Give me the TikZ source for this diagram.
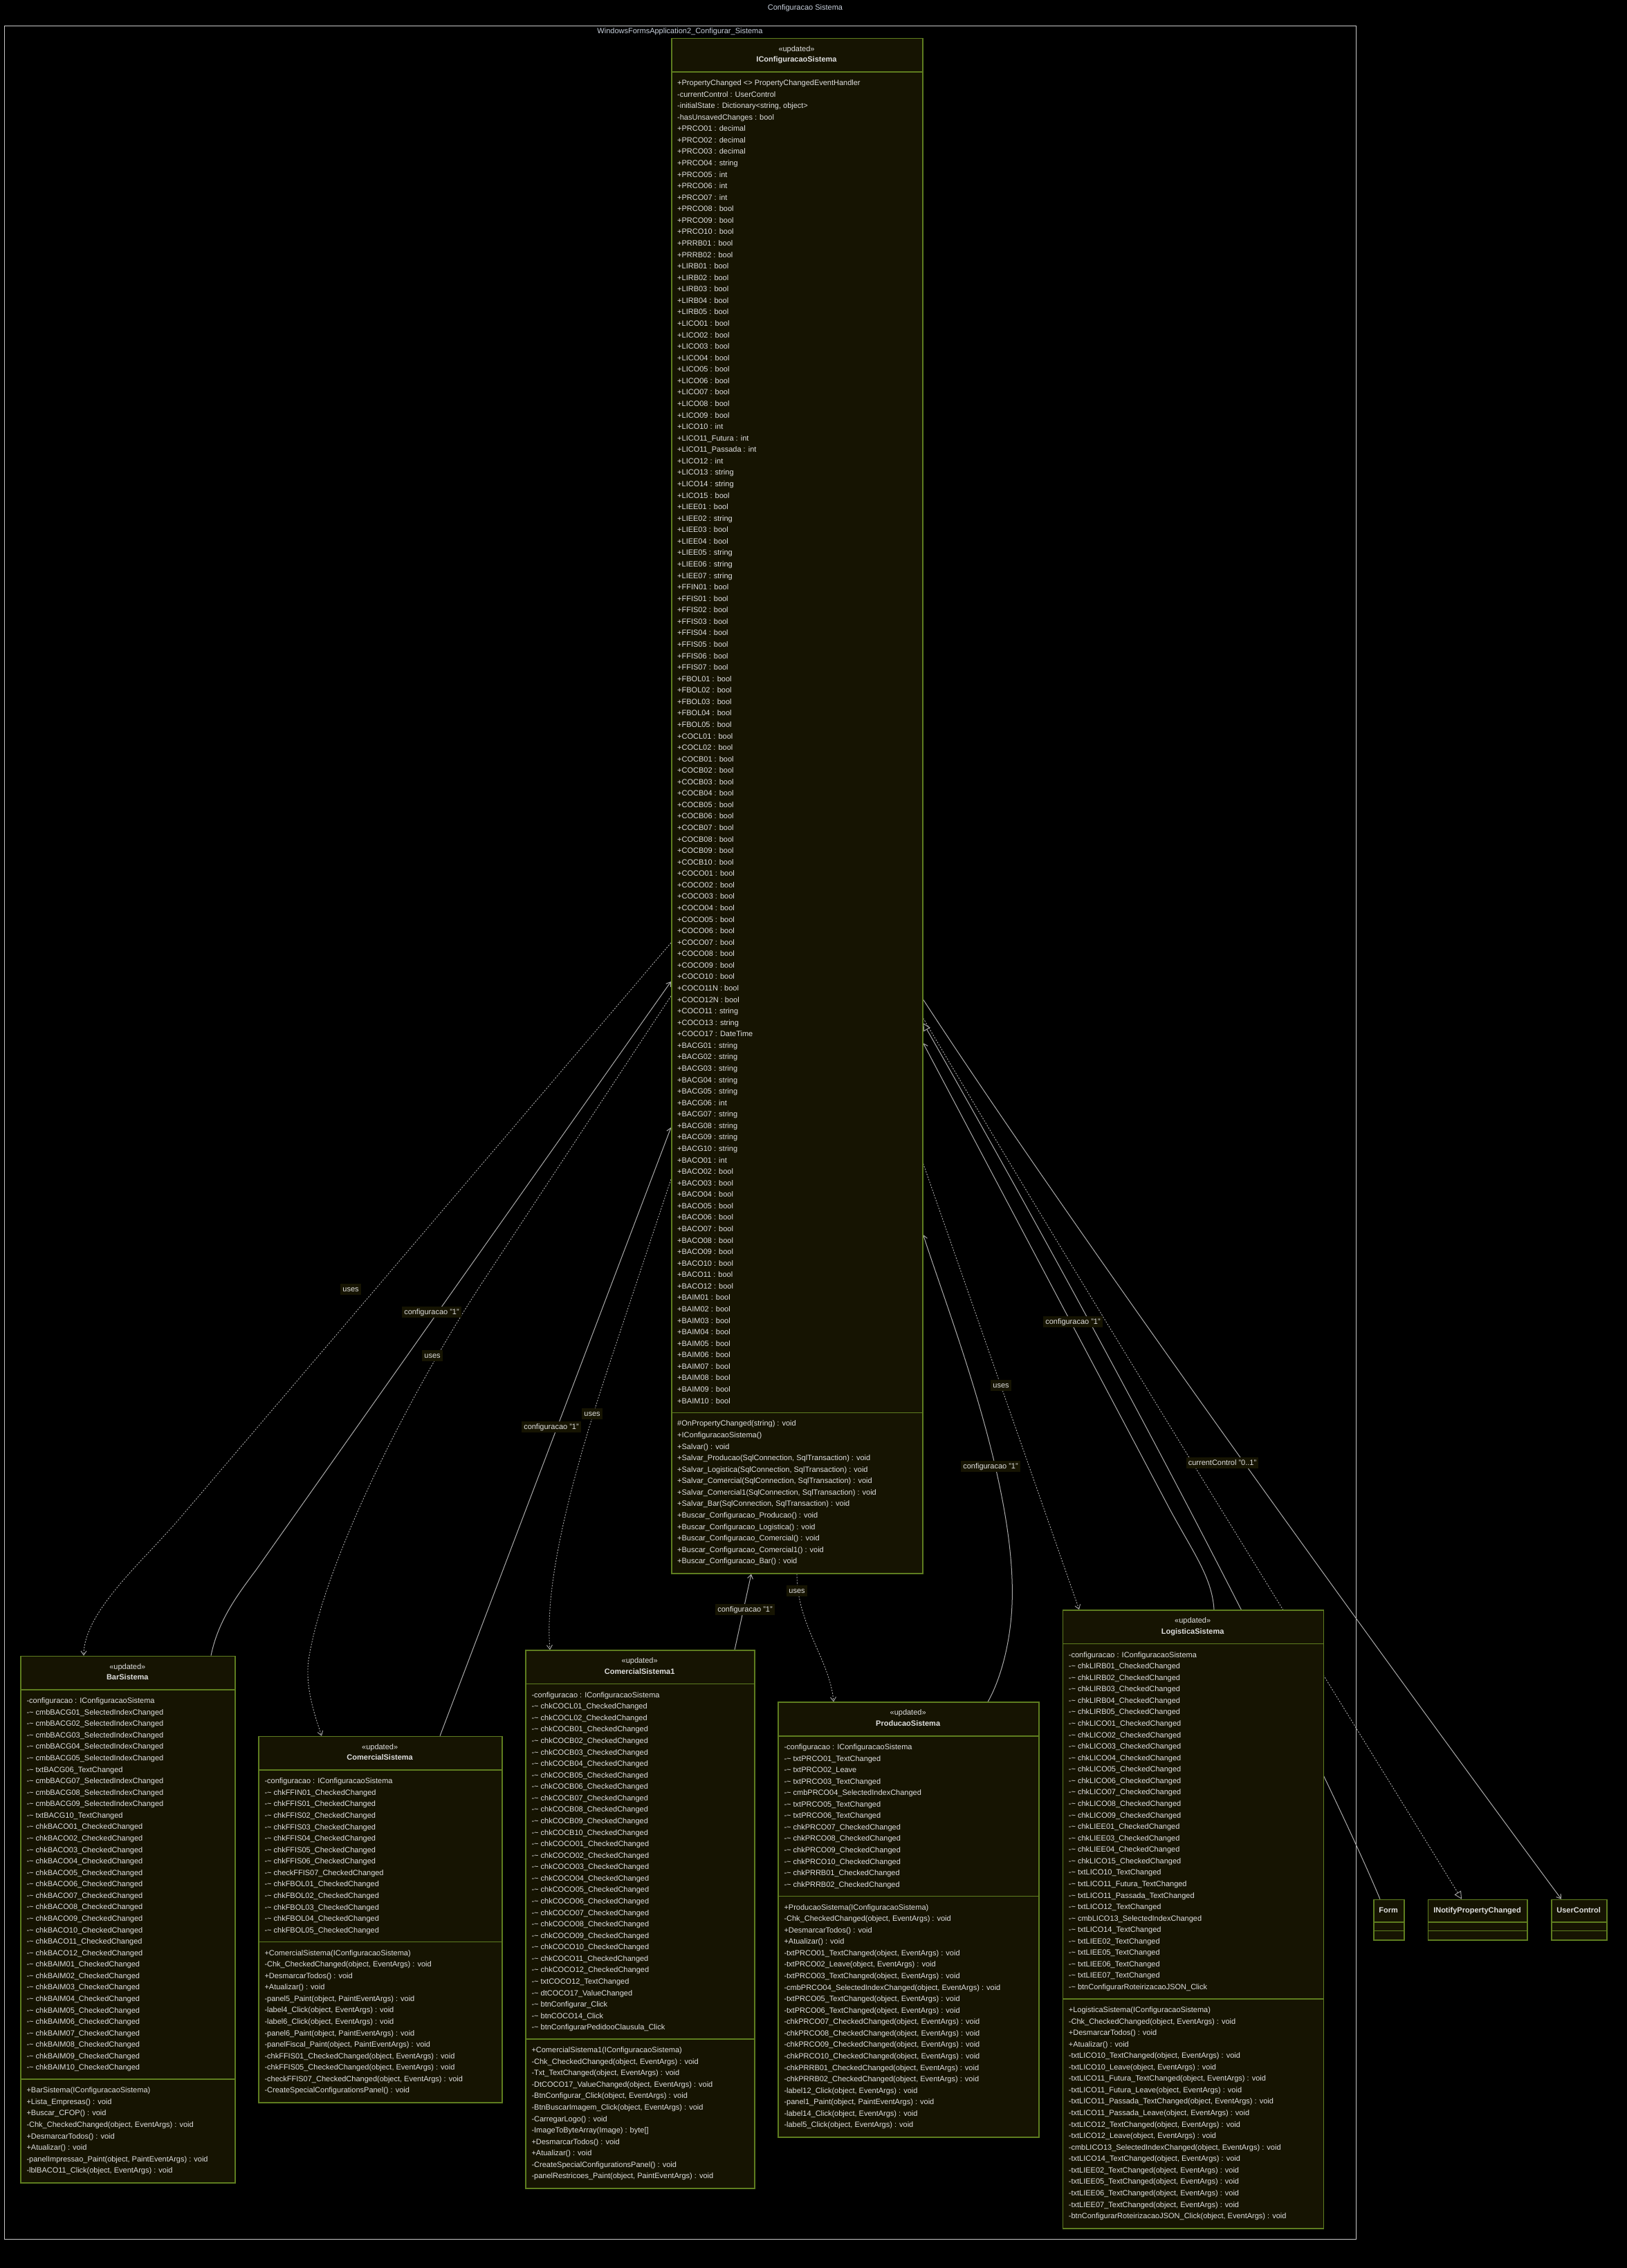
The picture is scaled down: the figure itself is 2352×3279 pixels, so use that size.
\documentclass[tikz,border=0pt]{standalone}
\usepackage{fontspec}
\setmainfont{Liberation Sans}
\usetikzlibrary{arrows.meta,calc}
\pgfdeclarelayer{bglayer}
\pgfdeclarelayer{edgelayer}
\pgfsetlayers{bglayer,edgelayer,main}
\definecolor{boxfill}{HTML}{161402}
\definecolor{boxline}{HTML}{5E7D1F}
\definecolor{txt}{HTML}{E0E0E0}
\definecolor{edgec}{HTML}{ABABAB}
\definecolor{titlec}{HTML}{C8D0DC}
\definecolor{framec}{HTML}{C8C8C8}
\newcommand\memfont{\fontsize{11}{13}\selectfont}
\newcommand\tl{-\textasciitilde\ }
\newcommand\OEv{(object, EventArgs) : void}
\newcommand\OPv{(object, PaintEventArgs) : void}
\catcode`\_=12
\tikzset{
  classbox/.style={draw=boxline, fill=boxfill, line width=1.5pt, inner sep=0pt, rectangle},
  sepline/.style={draw=boxline, line width=1.5pt},
  member/.style={text=txt, font=\memfont, inner sep=0pt, anchor=base west},
  stereo/.style={text=txt, font=\memfont, inner sep=0pt, anchor=base},
  cname/.style={text=txt, font=\memfont\bfseries, inner sep=0pt, anchor=base},
  elabel/.style={text=txt, font=\memfont, fill=boxfill, inner xsep=3pt, inner ysep=2.5pt, text height=8.5pt, text depth=2.5pt},
  edgebase/.style={draw=edgec, line width=1pt},
  usesedge/.style={edgebase, line width=0.9pt, dash pattern=on 2pt off 2pt, -{Straight Barb[length=6pt,width=8pt]}},
  assoc/.style={edgebase, -{Straight Barb[length=6pt,width=8pt]}},
  realize/.style={edgebase, line width=0.9pt, dash pattern=on 2pt off 2pt, -{Triangle[length=11pt,width=11pt,fill=black]}},
  inherit/.style={edgebase, -{Triangle[length=11pt,width=11pt,fill=black]}},
}
% #1 id, #2 x, #3 y, #4 width, #5 nattr, #6 nmeth, #7 name, #8 attrs, #9 methods
\newcommand\umlclass[9]{%
  \pgfmathsetmacro\hA{#5*16.57+16.3}%
  \pgfmathsetmacro\hM{#6*16.57+16.3}%
  \pgfmathsetmacro\hT{49.5+\hA+\hM}%
  \node[classbox, minimum width=#4pt, minimum height=\hT pt, anchor=north west] (#1) at (#2,#3) {};
  \draw[sepline] ({#2},{#3+49.5}) -- ++(#4,0);
  \draw[sepline] ({#2},{#3+49.5+\hA}) -- ++(#4,0);
  \node[stereo] (#1-st) at ({#2+#4/2},{#3+19.5}) {«updated»};
  \node[cname] (#1-nm) at ({#2+#4/2},{#3+35}) {#7};
  \foreach \mtext [count=\ii] in {#8} {\node[member] (#1-a\ii) at ({#2+9},{#3+49.5+19.5+(\ii-1)*16.57}) {\mtext};}
  \foreach \mtext [count=\ii] in {#9} {\node[member] (#1-m\ii) at ({#2+9},{#3+49.5+\hA+19.5+(\ii-1)*16.57}) {\mtext};}
}
% #1 id, #2 x, #3 y, #4 width, #5 name
\newcommand\smallclass[5]{%
  \node[classbox, minimum width=#4pt, minimum height=58.3pt, anchor=north west] (#1) at (#2,#3) {};
  \draw[sepline] ({#2},{#3+33.3}) -- ++(#4,0);
  \draw[sepline] ({#2},{#3+46}) -- ++(#4,0);
  \node[cname] (#1-nm) at ({#2+#4/2},{#3+19.6}) {#5};
}
\begin{document}
\begin{tikzpicture}[x=1pt,y=-1pt]
\useasboundingbox (0,0) rectangle (2352,3279);
\begin{pgfonlayer}{bglayer}
  \fill[black] (0,0) rectangle (2352,3279);
  \node[draw=framec, line width=1pt, minimum width=1954pt, minimum height=3200pt, anchor=north west, inner sep=0pt] (pkg) at (6,37) {};
\end{pgfonlayer}
\node[text=titlec, font=\memfont, inner sep=0pt, anchor=base] (title) at (1164,14) {Configuracao Sistema};
\node[text=titlec, font=\memfont, inner sep=0pt, anchor=base] (pkglabel) at (983,48) {WindowsFormsApplication2_Configurar_Sistema};

\umlclass{ic}{970}{54.5}{363}{116}{13}{IConfiguracaoSistema}{%
{+PropertyChanged <> PropertyChangedEventHandler},
-currentControl : UserControl,
{-initialState : Dictionary<string, object>},
-hasUnsavedChanges : bool,
+PRCO01 : decimal, +PRCO02 : decimal, +PRCO03 : decimal, +PRCO04 : string,
+PRCO05 : int, +PRCO06 : int, +PRCO07 : int, +PRCO08 : bool, +PRCO09 : bool, +PRCO10 : bool,
+PRRB01 : bool, +PRRB02 : bool,
+LIRB01 : bool, +LIRB02 : bool, +LIRB03 : bool, +LIRB04 : bool, +LIRB05 : bool,
+LICO01 : bool, +LICO02 : bool, +LICO03 : bool, +LICO04 : bool, +LICO05 : bool,
+LICO06 : bool, +LICO07 : bool, +LICO08 : bool, +LICO09 : bool, +LICO10 : int,
+LICO11_Futura : int, +LICO11_Passada : int, +LICO12 : int, +LICO13 : string,
+LICO14 : string, +LICO15 : bool,
+LIEE01 : bool, +LIEE02 : string, +LIEE03 : bool, +LIEE04 : bool, +LIEE05 : string,
+LIEE06 : string, +LIEE07 : string,
+FFIN01 : bool, +FFIS01 : bool, +FFIS02 : bool, +FFIS03 : bool, +FFIS04 : bool,
+FFIS05 : bool, +FFIS06 : bool, +FFIS07 : bool,
+FBOL01 : bool, +FBOL02 : bool, +FBOL03 : bool, +FBOL04 : bool, +FBOL05 : bool,
+COCL01 : bool, +COCL02 : bool,
+COCB01 : bool, +COCB02 : bool, +COCB03 : bool, +COCB04 : bool, +COCB05 : bool,
+COCB06 : bool, +COCB07 : bool, +COCB08 : bool, +COCB09 : bool, +COCB10 : bool,
+COCO01 : bool, +COCO02 : bool, +COCO03 : bool, +COCO04 : bool, +COCO05 : bool,
+COCO06 : bool, +COCO07 : bool, +COCO08 : bool, +COCO09 : bool, +COCO10 : bool,
+COCO11N : bool, +COCO12N : bool, +COCO11 : string, +COCO13 : string, +COCO17 : DateTime,
+BACG01 : string, +BACG02 : string, +BACG03 : string, +BACG04 : string, +BACG05 : string,
+BACG06 : int, +BACG07 : string, +BACG08 : string, +BACG09 : string, +BACG10 : string,
+BACO01 : int, +BACO02 : bool, +BACO03 : bool, +BACO04 : bool, +BACO05 : bool,
+BACO06 : bool, +BACO07 : bool, +BACO08 : bool, +BACO09 : bool, +BACO10 : bool,
+BACO11 : bool, +BACO12 : bool,
+BAIM01 : bool, +BAIM02 : bool, +BAIM03 : bool, +BAIM04 : bool, +BAIM05 : bool,
+BAIM06 : bool, +BAIM07 : bool, +BAIM08 : bool, +BAIM09 : bool, +BAIM10 : bool}{%
\#OnPropertyChanged(string) : void,
+IConfiguracaoSistema(),
+Salvar() : void,
{+Salvar_Producao(SqlConnection, SqlTransaction) : void},
{+Salvar_Logistica(SqlConnection, SqlTransaction) : void},
{+Salvar_Comercial(SqlConnection, SqlTransaction) : void},
{+Salvar_Comercial1(SqlConnection, SqlTransaction) : void},
{+Salvar_Bar(SqlConnection, SqlTransaction) : void},
+Buscar_Configuracao_Producao() : void,
+Buscar_Configuracao_Logistica() : void,
+Buscar_Configuracao_Comercial() : void,
+Buscar_Configuracao_Comercial1() : void,
+Buscar_Configuracao_Bar() : void}

\umlclass{bar}{29.3}{2393.6}{310}{33}{8}{BarSistema}{%
-configuracao : IConfiguracaoSistema,
\tl cmbBACG01_SelectedIndexChanged, \tl cmbBACG02_SelectedIndexChanged,
\tl cmbBACG03_SelectedIndexChanged, \tl cmbBACG04_SelectedIndexChanged,
\tl cmbBACG05_SelectedIndexChanged, \tl txtBACG06_TextChanged,
\tl cmbBACG07_SelectedIndexChanged, \tl cmbBACG08_SelectedIndexChanged,
\tl cmbBACG09_SelectedIndexChanged, \tl txtBACG10_TextChanged,
\tl chkBACO01_CheckedChanged, \tl chkBACO02_CheckedChanged, \tl chkBACO03_CheckedChanged,
\tl chkBACO04_CheckedChanged, \tl chkBACO05_CheckedChanged, \tl chkBACO06_CheckedChanged,
\tl chkBACO07_CheckedChanged, \tl chkBACO08_CheckedChanged, \tl chkBACO09_CheckedChanged,
\tl chkBACO10_CheckedChanged, \tl chkBACO11_CheckedChanged, \tl chkBACO12_CheckedChanged,
\tl chkBAIM01_CheckedChanged, \tl chkBAIM02_CheckedChanged, \tl chkBAIM03_CheckedChanged,
\tl chkBAIM04_CheckedChanged, \tl chkBAIM05_CheckedChanged, \tl chkBAIM06_CheckedChanged,
\tl chkBAIM07_CheckedChanged, \tl chkBAIM08_CheckedChanged, \tl chkBAIM09_CheckedChanged,
\tl chkBAIM10_CheckedChanged}{%
+BarSistema(IConfiguracaoSistema),
+Lista_Empresas() : void,
+Buscar_CFOP() : void,
{-Chk_CheckedChanged\OEv},
+DesmarcarTodos() : void,
+Atualizar() : void,
{-panelImpressao_Paint\OPv},
{-lblBACO11_Click\OEv}}

\umlclass{com}{373.3}{2509.7}{351.7}{14}{13}{ComercialSistema}{%
-configuracao : IConfiguracaoSistema,
\tl chkFFIN01_CheckedChanged,
\tl chkFFIS01_CheckedChanged, \tl chkFFIS02_CheckedChanged, \tl chkFFIS03_CheckedChanged,
\tl chkFFIS04_CheckedChanged, \tl chkFFIS05_CheckedChanged, \tl chkFFIS06_CheckedChanged,
\tl checkFFIS07_CheckedChanged,
\tl chkFBOL01_CheckedChanged, \tl chkFBOL02_CheckedChanged, \tl chkFBOL03_CheckedChanged,
\tl chkFBOL04_CheckedChanged, \tl chkFBOL05_CheckedChanged}{%
+ComercialSistema(IConfiguracaoSistema),
{-Chk_CheckedChanged\OEv},
+DesmarcarTodos() : void,
+Atualizar() : void,
{-panel5_Paint\OPv},
{-label4_Click\OEv},
{-label6_Click\OEv},
{-panel6_Paint\OPv},
{-panelFiscal_Paint\OPv},
{-chkFFIS01_CheckedChanged\OEv},
{-chkFFIS05_CheckedChanged\OEv},
{-checkFFIS07_CheckedChanged\OEv},
-CreateSpecialConfigurationsPanel() : void}

\umlclass{com1}{759.3}{2385.2}{330.7}{30}{12}{ComercialSistema1}{%
-configuracao : IConfiguracaoSistema,
\tl chkCOCL01_CheckedChanged, \tl chkCOCL02_CheckedChanged,
\tl chkCOCB01_CheckedChanged, \tl chkCOCB02_CheckedChanged, \tl chkCOCB03_CheckedChanged,
\tl chkCOCB04_CheckedChanged, \tl chkCOCB05_CheckedChanged, \tl chkCOCB06_CheckedChanged,
\tl chkCOCB07_CheckedChanged, \tl chkCOCB08_CheckedChanged, \tl chkCOCB09_CheckedChanged,
\tl chkCOCB10_CheckedChanged,
\tl chkCOCO01_CheckedChanged, \tl chkCOCO02_CheckedChanged, \tl chkCOCO03_CheckedChanged,
\tl chkCOCO04_CheckedChanged, \tl chkCOCO05_CheckedChanged, \tl chkCOCO06_CheckedChanged,
\tl chkCOCO07_CheckedChanged, \tl chkCOCO08_CheckedChanged, \tl chkCOCO09_CheckedChanged,
\tl chkCOCO10_CheckedChanged, \tl chkCOCO11_CheckedChanged, \tl chkCOCO12_CheckedChanged,
\tl txtCOCO12_TextChanged, \tl dtCOCO17_ValueChanged, \tl btnConfigurar_Click,
\tl btnCOCO14_Click, \tl btnConfigurarPedidooClausula_Click}{%
+ComercialSistema1(IConfiguracaoSistema),
{-Chk_CheckedChanged\OEv},
{-Txt_TextChanged\OEv},
{-DtCOCO17_ValueChanged\OEv},
{-BtnConfigurar_Click\OEv},
{-BtnBuscarImagem_Click\OEv},
-CarregarLogo() : void,
{-ImageToByteArray(Image) : byte[]},
+DesmarcarTodos() : void,
+Atualizar() : void,
-CreateSpecialConfigurationsPanel() : void,
{-panelRestricoes_Paint\OPv}}

\umlclass{prod}{1124.3}{2460.4}{376.7}{13}{20}{ProducaoSistema}{%
-configuracao : IConfiguracaoSistema,
\tl txtPRCO01_TextChanged, \tl txtPRCO02_Leave, \tl txtPRCO03_TextChanged,
\tl cmbPRCO04_SelectedIndexChanged, \tl txtPRCO05_TextChanged, \tl txtPRCO06_TextChanged,
\tl chkPRCO07_CheckedChanged, \tl chkPRCO08_CheckedChanged, \tl chkPRCO09_CheckedChanged,
\tl chkPRCO10_CheckedChanged, \tl chkPRRB01_CheckedChanged, \tl chkPRRB02_CheckedChanged}{%
+ProducaoSistema(IConfiguracaoSistema),
{-Chk_CheckedChanged\OEv},
+DesmarcarTodos() : void,
+Atualizar() : void,
{-txtPRCO01_TextChanged\OEv},
{-txtPRCO02_Leave\OEv},
{-txtPRCO03_TextChanged\OEv},
{-cmbPRCO04_SelectedIndexChanged\OEv},
{-txtPRCO05_TextChanged\OEv},
{-txtPRCO06_TextChanged\OEv},
{-chkPRCO07_CheckedChanged\OEv},
{-chkPRCO08_CheckedChanged\OEv},
{-chkPRCO09_CheckedChanged\OEv},
{-chkPRCO10_CheckedChanged\OEv},
{-chkPRRB01_CheckedChanged\OEv},
{-chkPRRB02_CheckedChanged\OEv},
{-label12_Click\OEv},
{-panel1_Paint\OPv},
{-label14_Click\OEv},
{-label5_Click\OEv}}

\umlclass{log}{1535.7}{2327}{377}{30}{19}{LogisticaSistema}{%
-configuracao : IConfiguracaoSistema,
\tl chkLIRB01_CheckedChanged, \tl chkLIRB02_CheckedChanged, \tl chkLIRB03_CheckedChanged,
\tl chkLIRB04_CheckedChanged, \tl chkLIRB05_CheckedChanged,
\tl chkLICO01_CheckedChanged, \tl chkLICO02_CheckedChanged, \tl chkLICO03_CheckedChanged,
\tl chkLICO04_CheckedChanged, \tl chkLICO05_CheckedChanged, \tl chkLICO06_CheckedChanged,
\tl chkLICO07_CheckedChanged, \tl chkLICO08_CheckedChanged, \tl chkLICO09_CheckedChanged,
\tl chkLIEE01_CheckedChanged, \tl chkLIEE03_CheckedChanged, \tl chkLIEE04_CheckedChanged,
\tl chkLICO15_CheckedChanged,
\tl txtLICO10_TextChanged, \tl txtLICO11_Futura_TextChanged, \tl txtLICO11_Passada_TextChanged,
\tl txtLICO12_TextChanged, \tl cmbLICO13_SelectedIndexChanged, \tl txtLICO14_TextChanged,
\tl txtLIEE02_TextChanged, \tl txtLIEE05_TextChanged, \tl txtLIEE06_TextChanged,
\tl txtLIEE07_TextChanged, \tl btnConfigurarRoteirizacaoJSON_Click}{%
+LogisticaSistema(IConfiguracaoSistema),
{-Chk_CheckedChanged\OEv},
+DesmarcarTodos() : void,
+Atualizar() : void,
{-txtLICO10_TextChanged\OEv},
{-txtLICO10_Leave\OEv},
{-txtLICO11_Futura_TextChanged\OEv},
{-txtLICO11_Futura_Leave\OEv},
{-txtLICO11_Passada_TextChanged\OEv},
{-txtLICO11_Passada_Leave\OEv},
{-txtLICO12_TextChanged\OEv},
{-txtLICO12_Leave\OEv},
{-cmbLICO13_SelectedIndexChanged\OEv},
{-txtLICO14_TextChanged\OEv},
{-txtLIEE02_TextChanged\OEv},
{-txtLIEE05_TextChanged\OEv},
{-txtLIEE06_TextChanged\OEv},
{-txtLIEE07_TextChanged\OEv},
{-btnConfigurarRoteirizacaoJSON_Click\OEv}}

\smallclass{form}{1985}{2745.7}{44.3}{Form}
\smallclass{inot}{2063.7}{2745.7}{143.6}{INotifyPropertyChanged}
\smallclass{uc}{2242}{2745.7}{80.3}{UserControl}

\begin{pgfonlayer}{edgelayer}
  % Bar
  \draw[usesedge] ($(ic.north west)+(0,1308.5)$) -- (260,2195) .. controls (208,2256) and (121,2330) .. ($(bar.north west)+(91.7,0)$);
  \draw[assoc] ($(bar.north west)+(275.7,0)$) .. controls (315,2345) and (340,2310) .. (370,2270) -- ($(ic.north west)+(0,1364.5)$);
  % Comercial
  \draw[usesedge] ($(ic.north west)+(0,1385.5)$) -- (700,1850) .. controls (601,2000) and (470,2250) .. (446,2400) .. controls (441,2440) and (455,2480) .. ($(com.north west)+(91.7,0)$);
  \draw[assoc] ($(com.north west)+(262.7,0)$) -- ($(ic.north west)+(0,1575.5)$);
  % Comercial1
  \draw[usesedge] ($(ic.north west)+(0,1650.5)$) -- (880,1975) .. controls (815,2170) and (788,2300) .. ($(com1.north west)+(35.7,0)$);
  \draw[assoc] ($(com1.north west)+(302.7,0)$) -- ($(ic.south west)+(116,0)$);
  % Producao
  \draw[usesedge] ($(ic.south west)+(182,0)$) .. controls (1152,2350) and (1200,2400) .. ($(prod.north west)+(80.7,0)$);
  \draw[assoc] ($(prod.north west)+(303.7,0)$) .. controls (1440,2440) and (1460,2390) .. (1463,2320) .. controls (1470,2150) and (1375,1910) .. ($(ic.north east)+(0,1730.5)$);
  % Logistica
  \draw[usesedge] ($(ic.north east)+(0,1627.5)$) -- ($(log.north west)+(24.3,0)$);
  \draw[assoc] ($(log.north west)+(219.3,0)$) .. controls (1752,2280) and (1725,2245) .. (1690,2180) -- ($(ic.north east)+(0,1453.5)$);
  % UserControl, INotifyPropertyChanged, Form
  \draw[assoc] ($(ic.north east)+(0,1390.5)$) .. controls (1540,1760) and (1950,2330) .. ($(uc.north west)+(15,0)$);
  \draw[realize] ($(ic.north east)+(0,1417.5)$) .. controls (1600,1920) and (1950,2480) .. ($(inot.north west)+(49.3,0)$);
  \draw[inherit] ($(form.north west)+(10,0)$) .. controls (1930,2590) and (1700,2120) .. ($(ic.north east)+(0,1424.5)$);
  % labels
  \node[elabel] (l1) at (507,1864) {uses};
  \node[elabel] (l2) at (624,1897) {configuracao "1"};
  \node[elabel] (l3) at (625,1960) {uses};
  \node[elabel] (l4) at (797,2063) {configuracao "1"};
  \node[elabel] (l5) at (856,2044) {uses};
  \node[elabel] (l6) at (1077,2327) {configuracao "1"};
  \node[elabel] (l7) at (1152,2300) {uses};
  \node[elabel] (l8) at (1432,2120) {configuracao "1"};
  \node[elabel] (l9) at (1447,2003) {uses};
  \node[elabel] (l10) at (1551,1911) {configuracao "1"};
  \node[elabel] (l11) at (1767,2115) {currentControl "0..1"};
\end{pgfonlayer}
\end{tikzpicture}
\end{document}
